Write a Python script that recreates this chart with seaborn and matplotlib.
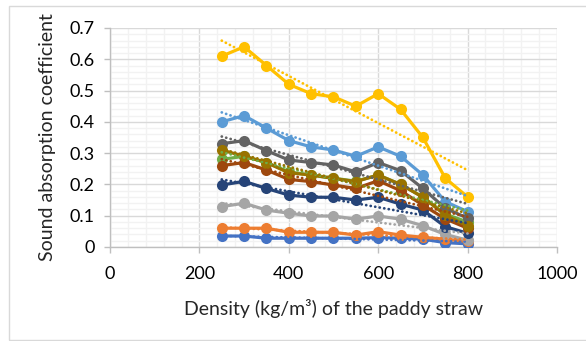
import numpy as np
import pandas as pd
import matplotlib
matplotlib.use("Agg")
import matplotlib.pyplot as plt
import seaborn as sns
from matplotlib.patches import Rectangle

density = [250, 300, 350, 400, 450, 500, 550, 600, 650, 700, 750, 800]

s_blue = [0.035, 0.035, 0.028, 0.028, 0.028, 0.028, 0.028, 0.030, 0.028, 0.025, 0.014, 0.010]
s_orange = [0.060, 0.060, 0.060, 0.047, 0.047, 0.047, 0.038, 0.049, 0.038, 0.031, 0.025, 0.018]
s_lgray = [0.129, 0.140, 0.118, 0.108, 0.099, 0.099, 0.089, 0.099, 0.089, 0.068, 0.040, 0.022]
s_yellow = [0.61, 0.64, 0.58, 0.52, 0.49, 0.48, 0.45, 0.49, 0.44, 0.35, 0.22, 0.16]
s_lblue = [0.40, 0.42, 0.38, 0.34, 0.32, 0.31, 0.29, 0.32, 0.29, 0.23, 0.145, 0.113]
s_green = [0.28, 0.29, 0.27, 0.24, 0.23, 0.22, 0.21, 0.23, 0.20, 0.16, 0.105, 0.08]
s_dblue = [0.198, 0.21, 0.187, 0.166, 0.159, 0.159, 0.150, 0.159, 0.137, 0.118, 0.065, 0.044]
s_brown = [0.26, 0.27, 0.246, 0.216, 0.209, 0.198, 0.187, 0.212, 0.180, 0.134, 0.09, 0.06]
s_dgray = [0.33, 0.34, 0.308, 0.278, 0.27, 0.262, 0.24, 0.27, 0.244, 0.187, 0.124, 0.092]
s_olive = [0.31, 0.29, 0.27, 0.237, 0.23, 0.219, 0.209, 0.23, 0.20, 0.159, 0.102, 0.067]

series = {
    "blue": s_blue, "orange": s_orange, "lgray": s_lgray, "yellow": s_yellow,
    "lblue": s_lblue, "green": s_green, "dblue": s_dblue, "brown": s_brown,
    "dgray": s_dgray, "olive": s_olive,
}
colors = {
    "blue": "#4472C4", "orange": "#ED7D31", "lgray": "#A5A5A5", "yellow": "#FFC000",
    "lblue": "#5B9BD5", "green": "#70AD47", "dblue": "#264478", "brown": "#9E480E",
    "dgray": "#636363", "olive": "#997300",
}

df = pd.concat([pd.DataFrame({"density": density, "alpha": v, "series": k})
                for k, v in series.items()], ignore_index=True)

sns.set_style("white")
plt.rcParams["font.family"] = ["Lato", "DejaVu Sans"]

fig = plt.figure(figsize=(5.86, 3.41), dpi=100)
ax = fig.add_axes([0.1877, 0.2757, 0.7628, 0.6422])
fig.patches.append(Rectangle((9 / 586, 1 / 341), 1.0, 334 / 341, transform=fig.transFigure,
                             fill=False, edgecolor="#D9D9D9", linewidth=1.0))

sns.lineplot(data=df, x="density", y="alpha", hue="series", hue_order=list(series),
             palette=colors, marker="o", markersize=8, markeredgewidth=0,
             linewidth=2.3, legend=False, ax=ax, zorder=3)

# dotted linear trendlines
for k, v in series.items():
    sns.regplot(x=np.array(density), y=np.array(v), scatter=False, ci=None, ax=ax,
                line_kws=dict(color=colors[k], linewidth=2.0, linestyle=(0, (0.05, 1.6)),
                              dash_capstyle="round", zorder=4))

ax.set_xlim(0, 1000)
ax.set_ylim(0, 0.7)
ax.set_xticks(np.arange(0, 1001, 200))
ax.set_yticks(np.arange(0, 0.71, 0.1))
ax.set_yticklabels(["0", "0.1", "0.2", "0.3", "0.4", "0.5", "0.6", "0.7"])
ax.set_xticks(np.arange(0, 1001, 40), minor=True)
ax.set_yticks(np.arange(0, 0.701, 0.02), minor=True)
ax.grid(which="major", color="#D9D9D9", linewidth=1.0, zorder=0)
ax.grid(which="minor", color="#F2F2F2", linewidth=1.0, zorder=0)
ax.set_axisbelow(True)
for s in ["top", "right"]:
    ax.spines[s].set_visible(False)
for s in ["left", "bottom"]:
    ax.spines[s].set_color("#BFBFBF")
    ax.spines[s].set_linewidth(1.0)
ax.tick_params(which="major", length=4, width=1, color="#BFBFBF", labelsize=13,
               labelcolor="black", direction="out", bottom=True, left=True, pad=7)
ax.tick_params(axis="x", which="major", pad=10)
ax.tick_params(which="minor", length=0)

ax.set_xlabel("Density (kg/m³) of the paddy straw", fontsize=14, labelpad=12)
ax.set_ylabel("Sound absorption coefficient", fontsize=14, labelpad=10)

fig.savefig("out.png", dpi=100)
